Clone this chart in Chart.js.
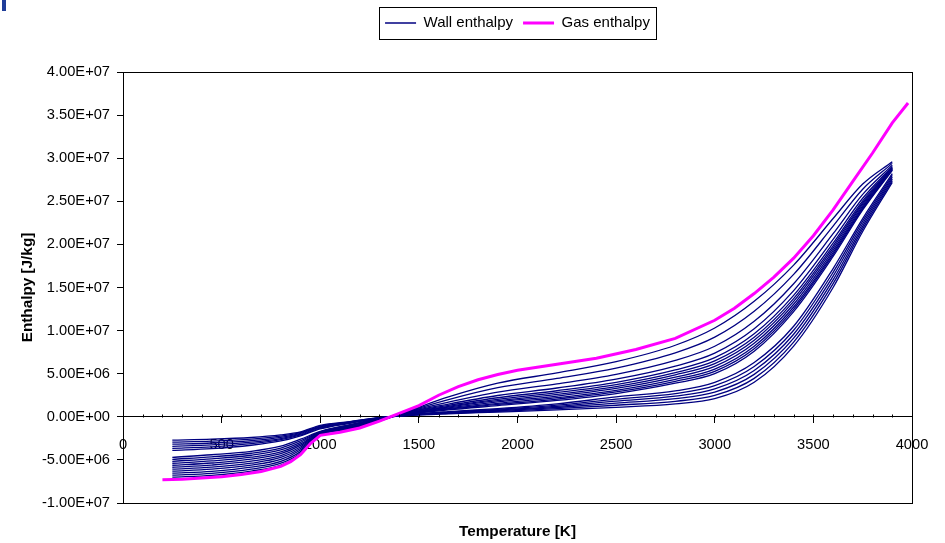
<!DOCTYPE html>
<html>
<head>
<meta charset="utf-8">
<script src="https://cdn.jsdelivr.net/npm/chart.js@4.4.1/dist/chart.umd.min.js"></script>
<style>
  body { margin: 0; background: #fff; }
  #wrap { position: relative; width: 945px; height: 543px; }
  #mark { position: absolute; left: 2px; top: 0; width: 4px; height: 11px; background: #1f3d99; }
</style>
</head>
<body>
<div id="wrap">
  <canvas id="enthalpy" width="945" height="543"></canvas>
  <div id="mark"></div>
</div>
<script>
  'use strict';

  // enthalpy values below are in 1e6 J/kg
  var MJ = 1e6;

  var wallTemps = [250, 450, 650, 800, 900, 1000, 1150, 1300, 1450, 1650, 1900, 2200, 2500, 2800, 3000, 3200, 3400, 3600, 3750, 3900];

  // wall profiles that finish in the upper bundle
  var wallNear = [
    [-4.70, -4.40, -4.00, -3.40, -2.60, -1.70, -0.90, -0.20, 0.30, 0.80, 1.30, 1.90, 2.70, 3.90, 5.00, 7.60, 12.20, 18.60, 24.00, 28.60],
    [-4.93, -4.64, -4.23, -3.62, -2.78, -1.74, -0.96, -0.23, 0.34, 0.88, 1.43, 2.06, 2.89, 4.12, 5.27, 7.89, 12.47, 18.82, 24.15, 28.65],
    [-5.16, -4.88, -4.46, -3.84, -2.96, -1.78, -1.02, -0.26, 0.38, 0.95, 1.56, 2.22, 3.07, 4.34, 5.53, 8.18, 12.74, 19.04, 24.30, 28.70],
    [-5.39, -5.12, -4.69, -4.06, -3.14, -1.82, -1.08, -0.29, 0.42, 1.04, 1.72, 2.41, 3.29, 4.60, 5.85, 8.53, 13.06, 19.30, 24.48, 28.76],
    [-5.62, -5.36, -4.92, -4.28, -3.32, -1.86, -1.14, -0.32, 0.46, 1.13, 1.87, 2.60, 3.51, 4.87, 6.17, 8.88, 13.39, 19.57, 24.66, 28.82],
    [-5.85, -5.60, -5.15, -4.50, -3.50, -1.90, -1.20, -0.35, 0.50, 1.22, 2.03, 2.80, 3.74, 5.13, 6.48, 9.22, 13.71, 19.83, 24.84, 28.88],
    [-6.08, -5.84, -5.38, -4.72, -3.68, -1.94, -1.26, -0.38, 0.54, 1.33, 2.21, 3.02, 4.00, 5.44, 6.86, 9.63, 14.09, 20.14, 25.05, 28.95],
    [-6.31, -6.08, -5.61, -4.94, -3.86, -1.98, -1.32, -0.41, 0.58, 1.48, 2.47, 3.34, 4.37, 5.88, 7.39, 10.21, 14.63, 20.58, 25.35, 29.05],
    [-6.54, -6.32, -5.84, -5.16, -4.04, -2.02, -1.38, -0.44, 0.62, 1.70, 2.86, 3.82, 4.92, 6.54, 8.18, 11.08, 15.44, 21.24, 25.80, 29.20],
    [-6.77, -6.56, -6.07, -5.38, -4.22, -2.06, -1.44, -0.47, 0.66, 2.00, 3.38, 4.46, 5.66, 7.42, 9.24, 12.24, 16.52, 22.12, 26.40, 29.40],
    [-7.00, -6.80, -6.30, -5.60, -4.40, -2.10, -1.50, -0.50, 0.70, 2.30, 3.90, 5.10, 6.40, 8.30, 10.30, 13.40, 17.60, 23.00, 27.00, 29.60]
  ];

  // wall profiles that finish in the lower bundle
  var wallFar = [
    [-2.70, -2.60, -2.40, -2.10, -1.75, -1.00, -0.55, -0.10, 0.15, 0.35, 0.55, 0.80, 1.10, 1.50, 2.10, 4.00, 8.20, 15.00, 21.50, 27.20],
    [-2.94, -2.82, -2.58, -2.24, -1.84, -1.08, -0.59, -0.11, 0.17, 0.40, 0.63, 0.94, 1.34, 1.80, 2.48, 4.46, 8.66, 15.44, 21.80, 27.40],
    [-3.18, -3.04, -2.76, -2.38, -1.93, -1.16, -0.63, -0.12, 0.19, 0.45, 0.71, 1.08, 1.58, 2.10, 2.86, 4.92, 9.12, 15.88, 22.10, 27.60],
    [-3.42, -3.26, -2.94, -2.52, -2.02, -1.24, -0.67, -0.13, 0.21, 0.50, 0.79, 1.22, 1.82, 2.40, 3.24, 5.38, 9.58, 16.32, 22.40, 27.80],
    [-3.66, -3.48, -3.12, -2.66, -2.11, -1.32, -0.71, -0.14, 0.23, 0.55, 0.87, 1.36, 2.06, 2.70, 3.62, 5.84, 10.04, 16.76, 22.70, 28.00],
    [-3.90, -3.70, -3.30, -2.80, -2.20, -1.40, -0.75, -0.15, 0.25, 0.60, 0.95, 1.50, 2.30, 3.00, 4.00, 6.30, 10.50, 17.20, 23.00, 28.20]
  ];

  var gasTemps = [200, 300, 400, 500, 600, 700, 800, 850, 900, 950, 1000, 1100, 1200, 1300, 1400, 1500, 1600, 1700, 1800, 1900,
                  2000, 2200, 2400, 2600, 2800, 3000, 3100, 3200, 3300, 3400, 3500, 3600, 3700, 3800, 3900, 3980];
  var gasEnthalpy = [-7.30, -7.25, -7.10, -6.95, -6.70, -6.35, -5.75, -5.20, -4.40, -3.10, -2.15, -1.80, -1.30, -0.50, 0.40, 1.30, 2.50, 3.50, 4.30, 4.90,
                     5.40, 6.10, 6.80, 7.80, 9.10, 11.20, 12.60, 14.30, 16.20, 18.40, 21.00, 24.00, 27.30, 30.60, 34.10, 36.40];

  var NAVY = '#000080';
  var MAGENTA = '#ff00ff';
  var FONT = "'Liberation Sans', Arial, sans-serif";

  Chart.defaults.font.family = FONT;
  Chart.defaults.color = '#000';

  function toPoints(xs, ys) {
    return xs.map(function (x, i) { return {x: x, y: ys[i] * MJ}; });
  }

  // 4.00E+07 style labels
  function sci(v) {
    var parts = Number(v).toExponential(2).split('e');
    var e = parseInt(parts[1], 10);
    return parts[0] + 'E' + (e < 0 ? '-' : '+') + String(Math.abs(e)).padStart(2, '0');
  }

  var datasets = wallNear.concat(wallFar).map(function (row) {
    return {
      label: 'Wall enthalpy',
      data: toPoints(wallTemps, row),
      borderColor: NAVY,
      backgroundColor: NAVY,
      borderWidth: 1.3,
      pointRadius: 0,
      showLine: true,
      cubicInterpolationMode: 'monotone'
    };
  });
  datasets.push({
    label: 'Gas enthalpy',
    data: toPoints(gasTemps, gasEnthalpy),
    borderColor: MAGENTA,
    backgroundColor: MAGENTA,
    borderWidth: 3,
    pointRadius: 0,
    showLine: true,
    order: -1
  });

  // short ticks above the zero line, plus the box round the legend
  var axisExtras = {
    id: 'axisExtras',
    afterDraw: function (chart) {
      var ctx = chart.ctx;
      var xs = chart.scales.x;
      var y0 = Math.round(chart.scales.y.getPixelForValue(0)) + 0.5;
      ctx.save();
      ctx.strokeStyle = '#000';
      ctx.lineWidth = 1;
      ctx.beginPath();
      xs.ticks.forEach(function (t) {
        var px = Math.round(xs.getPixelForValue(t.value)) + 0.5;
        ctx.moveTo(px, y0 - 3);
        ctx.lineTo(px, y0);
      });
      ctx.stroke();

      var boxes = chart.legend.legendHitBoxes;
      if (boxes && boxes.length) {
        var l = Math.min.apply(null, boxes.map(function (b) { return b.left; })) - 6;
        var r = Math.max.apply(null, boxes.map(function (b) { return b.left + b.width; })) + 6;
        var t = boxes[0].top - 8.7;
        var b = boxes[0].top + boxes[0].height + 8.7;
        ctx.strokeRect(Math.round(l) + 0.5, Math.round(t) + 0.5, Math.round(r - l), Math.round(b - t));
      }
      ctx.restore();
    }
  };

  var frameAxis = {
    display: true,
    ticks: {display: false},
    grid: {display: false, drawTicks: false},
    border: {display: true, color: '#000', width: 1}
  };

  var ctx = document.getElementById('enthalpy').getContext('2d');
  window.enthalpyChart = new Chart(ctx, {
    type: 'scatter',
    data: {datasets: datasets},
    plugins: [axisExtras],
    options: {
      responsive: false,
      devicePixelRatio: 1,
      animation: false,
      events: [],
      layout: {padding: {top: 5.5, left: 0, right: 0, bottom: 0}},
      plugins: {
        legend: {
          position: 'top',
          fullSize: false,
          labels: {
            font: {size: 15},
            color: '#000',
            usePointStyle: true,
            pointStyle: 'line',
            pointStyleWidth: 31,
            padding: 10,
            filter: function (item) { return item.datasetIndex === 0 || item.text === 'Gas enthalpy'; },
            sort: function (a, b) { return a.datasetIndex - b.datasetIndex; }
          }
        },
        tooltip: {enabled: false}
      },
      scales: {
        x: {
          type: 'linear',
          position: {y: 0},
          min: 0,
          max: 4000,
          ticks: {
            stepSize: 100,
            autoSkip: false,
            maxRotation: 0,
            padding: 13,
            font: {size: 14.67},
            callback: function (v) { return Math.round(v) % 500 === 0 ? String(Math.round(v)) : ''; }
          },
          grid: {
            display: true,
            drawOnChartArea: false,
            drawTicks: true,
            tickLength: 6,
            tickColor: function (c) {
              return c.tick && Math.round(c.tick.value) % 500 === 0 ? '#000' : 'rgba(0,0,0,0)';
            }
          },
          border: {display: true, color: '#000', width: 1}
        },
        y: {
          type: 'linear',
          position: 'left',
          min: -1e7,
          max: 4e7,
          ticks: {stepSize: 5e6, padding: 7, font: {size: 14.67}, callback: sci},
          grid: {display: true, drawOnChartArea: false, tickLength: 6, tickColor: '#000'},
          border: {display: true, color: '#000', width: 1},
          title: {
            display: true,
            text: 'Enthalpy [J/kg]',
            font: {size: 15.3, weight: 'bold'},
            padding: {top: 19, bottom: 0}
          },
          afterFit: function (s) { s.width = 123; }
        },
        xTop: Object.assign({axis: 'x', position: 'top', afterFit: function (s) { s.height = 31.5; }}, frameAxis),
        yRight: Object.assign({axis: 'y', position: 'right', afterFit: function (s) { s.width = 33; }}, frameAxis),
        xBottom: Object.assign({}, frameAxis, {
          axis: 'x',
          position: 'bottom',
          title: {
            display: true,
            text: 'Temperature [K]',
            font: {size: 15.3, weight: 'bold'},
            padding: {top: 0, bottom: 2.2}
          },
          afterFit: function (s) { s.height = 40; }
        })
      }
    }
  });
</script>
</body>
</html>
